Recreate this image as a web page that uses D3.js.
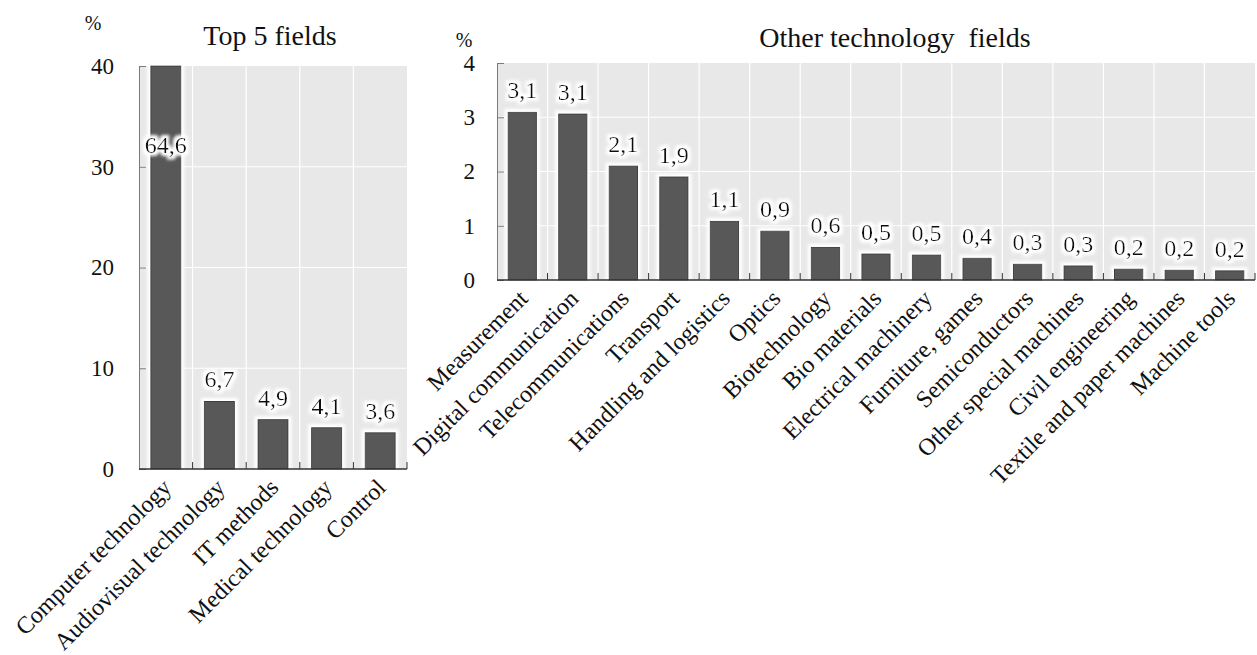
<!DOCTYPE html>
<html>
<head>
<meta charset="utf-8">
<script src="https://cdn.jsdelivr.net/npm/d3@7"></script>
<style>
  html, body { margin: 0; padding: 0; background: #fff; }
  svg { display: block; font-family: "Liberation Serif", "Times New Roman", serif; }
</style>
</head>
<body>
<svg id="chart" width="1257" height="655"></svg>
<script>
// Share of patent applications by technology field (%)
const topFields = ["Computer technology", "Audiovisual technology", "IT methods", "Medical technology", "Control"];
const topValues = [64.6, 6.7, 4.9, 4.1, 3.6];
const topTicks = [0, 10, 20, 30, 40];

const otherFields = ["Measurement", "Digital communication", "Telecommunications", "Transport",
  "Handling and logistics", "Optics", "Biotechnology", "Bio materials", "Electrical machinery",
  "Furniture, games", "Semiconductors", "Other special machines", "Civil engineering",
  "Textile and paper machines", "Machine tools"];
const otherValues = [3.09, 3.06, 2.1, 1.9, 1.08, 0.9, 0.6, 0.48, 0.46, 0.4, 0.29, 0.26, 0.2, 0.18, 0.17];
const otherTicks = [0, 1, 2, 3, 4];

const svg = d3.select("#chart");
const fmt = v => v.toFixed(1).replace(".", ",");
const FONT = "Liberation Serif";

// White halo drawn behind bars and value labels
const defs = svg.append("defs");
const glow = defs.append("filter").attr("id", "halo")
  .attr("x", "-50%").attr("y", "-50%").attr("width", "200%").attr("height", "200%");
glow.append("feMorphology").attr("in", "SourceAlpha").attr("operator", "dilate").attr("radius", 3).attr("result", "d");
glow.append("feGaussianBlur").attr("in", "d").attr("stdDeviation", 1.6).attr("result", "b");
glow.append("feFlood").attr("flood-color", "#ffffff").attr("result", "w");
glow.append("feComposite").attr("in", "w").attr("in2", "b").attr("operator", "in").attr("result", "g");
const merge = glow.append("feMerge");
merge.append("feMergeNode").attr("in", "g");
merge.append("feMergeNode").attr("in", "SourceGraphic");

function panel(cfg) {
  const { names, values, ticks, x0, x1, y0, y1, title, titleX, titleY, pctX, pctY, tickPad } = cfg;
  const x = d3.scaleBand().domain(names).range([x0, x1]).paddingInner(0.44).paddingOuter(0.22);
  const y = d3.scaleLinear().domain([ticks[0], ticks[ticks.length - 1]]).range([y1, y0]).clamp(true);
  const bounds = d3.range(names.length + 1).map(i => x0 + i * (x1 - x0) / names.length);

  const g = svg.append("g");

  // plot background and gridlines
  g.append("rect").attr("x", x0).attr("y", y0).attr("width", x1 - x0).attr("height", y1 - y0).attr("fill", "#e8e8e8");
  g.selectAll(".hg").data(ticks.slice(1, -1)).join("line")
    .attr("x1", x0).attr("x2", x1).attr("y1", d => y(d)).attr("y2", d => y(d))
    .attr("stroke", "#ffffff").attr("stroke-width", 1.2);
  g.selectAll(".vg").data(bounds.slice(1, -1)).join("line")
    .attr("x1", d => d).attr("x2", d => d).attr("y1", y0).attr("y2", y1)
    .attr("stroke", "#ffffff").attr("stroke-width", 1.2);

  // bars
  g.append("g").selectAll("rect").data(values).join("rect")
    .attr("x", (d, i) => x(names[i]))
    .attr("width", x.bandwidth())
    .attr("y", d => y(d))
    .attr("height", d => y1 - y(d))
    .attr("fill", "#595959")
    .attr("stroke", "#3c3c3c")
    .attr("stroke-width", 1)
    .attr("filter", "url(#halo)");

  // value labels
  const ymax = ticks[ticks.length - 1];
  g.append("g").selectAll("text").data(values).join("text")
    .attr("x", (d, i) => x(names[i]) + x.bandwidth() / 2)
    .attr("y", d => d > ymax ? y(ymax * 0.785) : y(d) - 14)
    .attr("text-anchor", "middle")
    .attr("font-family", FONT)
    .attr("font-size", 24)
    .attr("fill", "#111")
    .attr("filter", "url(#halo)")
    .text(d => fmt(d));

  // y axis with inward ticks
  const ya = g.append("g").attr("transform", `translate(${x0},0)`)
    .call(d3.axisLeft(y).tickValues(ticks).tickFormat(d3.format("d")).tickSizeInner(-7).tickSizeOuter(-7).tickPadding(tickPad))
    .attr("font-family", FONT).attr("font-size", 23);
  ya.select(".domain").attr("stroke", "#7a7a7a");
  ya.selectAll(".tick line").attr("stroke", "#7a7a7a");
  ya.selectAll(".tick text").attr("fill", "#111");

  // x baseline and boundary ticks
  g.append("line").attr("x1", x0).attr("x2", x1).attr("y1", y1).attr("y2", y1)
    .attr("stroke", "#333").attr("stroke-width", 1.5);
  g.selectAll(".xt").data(bounds.slice(1)).join("line")
    .attr("x1", d => d).attr("x2", d => d).attr("y1", y1).attr("y2", y1 - 7)
    .attr("stroke", "#333").attr("stroke-width", 1);

  // category labels, rotated
  g.append("g").selectAll("text").data(names).join("text")
    .attr("transform", d => `translate(${x(d) + x.bandwidth() / 2 + 1},${y1 + 14}) rotate(-45)`)
    .attr("text-anchor", "end")
    .attr("dy", "0.35em")
    .attr("font-family", FONT)
    .attr("font-size", 24)
    .attr("fill", "#111")
    .text(d => d);

  // title and unit
  svg.append("text").attr("x", titleX).attr("y", titleY).attr("text-anchor", "middle")
    .attr("font-family", FONT).attr("font-size", 28).attr("fill", "#111").style("white-space", "pre").text(title);
  svg.append("text").attr("x", pctX).attr("y", pctY).attr("text-anchor", "middle")
    .attr("font-family", FONT).attr("font-size", 20).attr("fill", "#111").text("%");
}

panel({ names: topFields, values: topValues, ticks: topTicks,
  x0: 139, x1: 407, y0: 66, y1: 469, tickPad: 25,
  title: "Top 5 fields", titleX: 270, titleY: 45, pctX: 93, pctY: 30 });

panel({ names: otherFields, values: otherValues, ticks: otherTicks,
  x0: 497, x1: 1255, y0: 63, y1: 280, tickPad: 22,
  title: "Other technology  fields", titleX: 895, titleY: 47, pctX: 464, pctY: 47 });
</script>
</body>
</html>
